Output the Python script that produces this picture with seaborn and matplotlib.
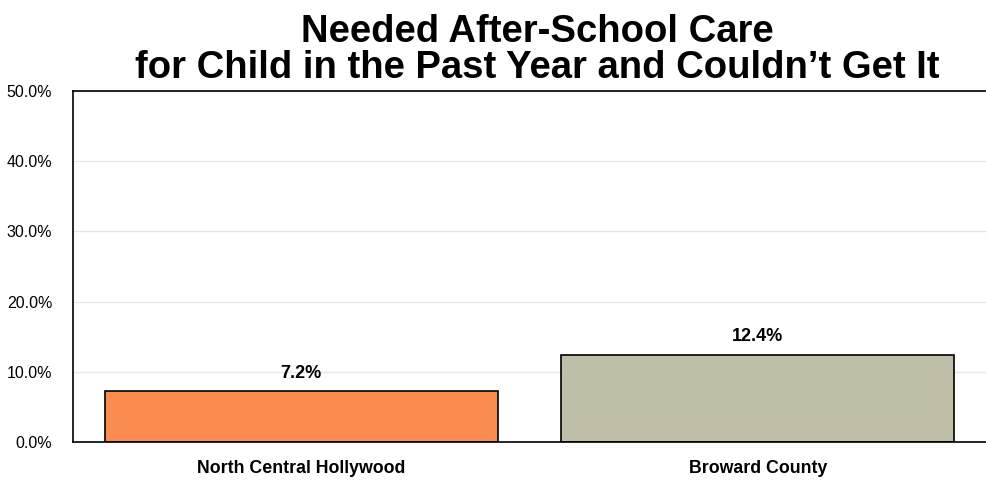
import pandas as pd
import seaborn as sns
import matplotlib.pyplot as plt
from matplotlib.ticker import PercentFormatter

# Data
categories = ['North Central Hollywood', 'Broward County']
values = [7.2, 12.4]
bar_colors = ['#FB8C50', '#BFBFA8']

df = pd.DataFrame({'area': categories, 'pct': values})

sns.set_style('white')
plt.rcParams['font.family'] = ['Liberation Sans', 'DejaVu Sans']
plt.rcParams['text.color'] = 'black'
plt.rcParams['xtick.color'] = 'black'
plt.rcParams['ytick.color'] = 'black'

fig = plt.figure(figsize=(9.86, 4.83), dpi=100)
ax = fig.add_axes([0.074, 0.085, 0.926, 0.7265])

sns.barplot(data=df, x='area', y='pct', hue='area', palette=bar_colors,
            saturation=1, width=0.86, edgecolor='black', linewidth=1.2,
            legend=False, ax=ax)

ax.set_ylim(0, 50)
ax.set_yticks([0, 10, 20, 30, 40, 50])
ax.yaxis.set_major_formatter(PercentFormatter(decimals=1))
ax.grid(axis='y', color='#E6E6E6', linewidth=1)
ax.set_axisbelow(True)
ax.set_xlabel('')
ax.set_ylabel('')
ax.tick_params(axis='y', labelsize=11.5, length=0, pad=15)
ax.tick_params(axis='x', labelsize=12.8, length=0, pad=13)
for lbl in ax.get_xticklabels():
    lbl.set_fontweight('bold')

for side in ['left', 'top', 'bottom']:
    ax.spines[side].set_color('black')
    ax.spines[side].set_linewidth(1.2)
ax.spines['right'].set_visible(False)

for c in ax.containers:
    ax.bar_label(c, labels=[f'{v:.1f}%' for v in c.datavalues],
                 padding=7, fontsize=13, fontweight='bold')

fig.text(0.545, 0.972, 'Needed After-School Care\nfor Child in the Past Year and Couldn\u2019t Get It',
         ha='center', va='top', fontsize=27.5, fontweight='bold', linespacing=1.0)

fig.savefig('out.png', dpi=100)
